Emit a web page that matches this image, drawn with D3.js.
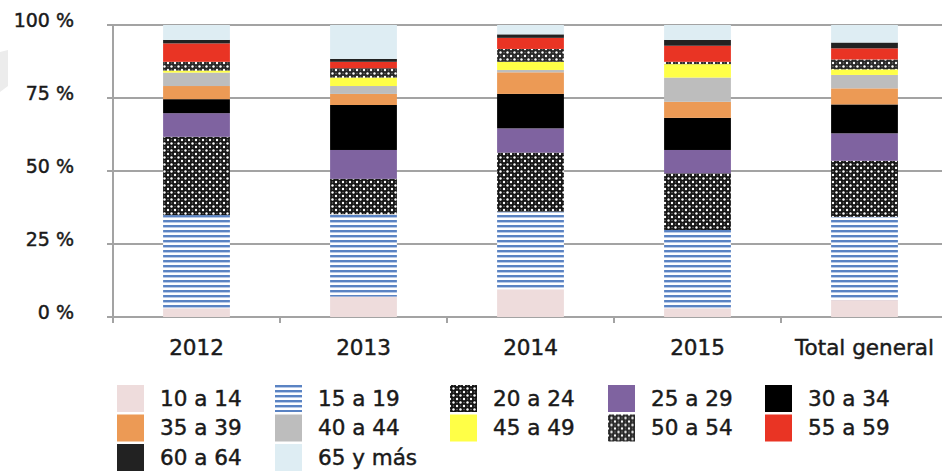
<!DOCTYPE html>
<html>
<head>
<meta charset="utf-8">
<script src="https://cdn.jsdelivr.net/npm/d3@7"></script>
<style>
  body { margin: 0; background: #fff; }
  text { font-family: "DejaVu Sans", Verdana, sans-serif; fill: #1a1a1a; stroke: #1a1a1a; stroke-width: 0.45px; }
</style>
</head>
<body>
<script>
// categories and age groups
categories = ["2012", "2013", "2014", "2015", "Total general"]
groups = ["10 a 14", "15 a 19", "20 a 24", "25 a 29", "30 a 34", "35 a 39",
          "40 a 44", "45 a 49", "50 a 54", "55 a 59", "60 a 64", "65 y más"]

// share (%) of each age group, one array per category, in group order
v2012  = [3.0, 31.9, 26.8, 8.1, 4.8, 4.5, 4.6, 0.7, 3.0, 6.3, 1.2, 5.1]
v2013  = [7.0, 28.2, 12.1, 9.9, 15.4, 3.8, 2.7, 2.9, 3.2, 2.2, 1.0, 11.6]
v2014  = [9.5, 26.6, 20.2, 8.3, 11.8, 7.4, 0.8, 2.8, 4.4, 3.8, 1.2, 3.2]
v2015  = [3.0, 26.8, 19.4, 8.0, 11.0, 5.5, 8.3, 4.6, 0.8, 5.5, 2.0, 5.1]
vTotal = [5.8, 28.5, 19.2, 9.4, 9.9, 5.5, 4.6, 1.9, 3.4, 3.8, 2.0, 6.0]
values = [v2012, v2013, v2014, v2015, vTotal]

yTicks = [0, 25, 50, 75, 100]

width = 942
height = 472
margin = {top: 25, right: -6, bottom: 155, left: 113}

fills = ["#eedcdc", "url(#stripes)", "url(#dots)", "#7f63a0", "#000000", "#ec9a55",
         "#bdbdbd", "#ffff47", "url(#dots2)", "#e93424", "#222222", "#deedf3"]

// table for the stack
table = categories.map((c, i) => {
  var row = {cat: c}
  groups.forEach((g, j) => row[g] = values[i][j])
  return row
})
series = d3.stack().keys(groups)(table)

x = d3.scaleBand()
  .domain(categories)
  .range([margin.left, width - margin.right])
  .padding(0)

y = d3.scaleLinear()
  .domain([0, 100])
  .range([height - margin.bottom, margin.top])

var svg = d3.select("body").append("svg")
  .attr("width", width)
  .attr("height", height)

// patterns
var defs = svg.append("defs")
var st = defs.append("pattern").attr("id", "stripes")
  .attr("patternUnits", "userSpaceOnUse").attr("width", 8).attr("height", 5)
st.append("rect").attr("width", 8).attr("height", 5).attr("fill", "#ffffff")
st.append("rect").attr("y", 0).attr("width", 8).attr("height", 2).attr("fill", "#5a83c3")
st.append("rect").attr("y", 2).attr("width", 8).attr("height", 1).attr("fill", "#b9cbe8")

function dotPattern(id, bg) {
  var p = defs.append("pattern").attr("id", id)
    .attr("patternUnits", "userSpaceOnUse").attr("width", 7).attr("height", 7)
  p.append("rect").attr("width", 7).attr("height", 7).attr("fill", bg)
  ;[[0, 0], [7, 0], [0, 7], [7, 7], [3.5, 3.5]].forEach(d => {
    p.append("circle").attr("cx", d[0]).attr("cy", d[1]).attr("r", 1.2).attr("fill", "#ffffff")
  })
  ;[[3.5, 0], [0, 3.5], [7, 3.5], [3.5, 7]].forEach(d => {
    p.append("circle").attr("cx", d[0]).attr("cy", d[1]).attr("r", 0.8).attr("fill", "#6e6e6e")
  })
}
dotPattern("dots", "#141414")
dotPattern("dots2", "#262626")

// faint shape on the left edge
svg.append("path")
  .attr("d", "M0,52 L8,50 L8,86 L0,92 Z")
  .attr("fill", "#ececec")

// gridlines
svg.append("g")
  .selectAll("line")
  .data(yTicks)
  .join("line")
  .attr("x1", margin.left - 6)
  .attr("x2", width)
  .attr("y1", d => y(d))
  .attr("y2", d => y(d))
  .attr("stroke", "#a3a3a3")
  .attr("stroke-width", 2)

// y axis line
svg.append("line")
  .attr("x1", margin.left).attr("x2", margin.left)
  .attr("y1", y(100)).attr("y2", y(0) + 6)
  .attr("stroke", "#a3a3a3").attr("stroke-width", 2)

// x ticks
svg.append("g")
  .selectAll("line")
  .data(categories)
  .join("line")
  .attr("x1", d => x(d)).attr("x2", d => x(d))
  .attr("y1", y(0)).attr("y2", y(0) + 6)
  .attr("stroke", "#a3a3a3").attr("stroke-width", 2)

// y labels
svg.append("g")
  .selectAll("text")
  .data(yTicks)
  .join("text")
  .attr("x", 74)
  .attr("y", d => y(d))
  .attr("dy", "0.1em")
  .attr("text-anchor", "end")
  .style("font-size", "19px")
  .text(d => d + " %")

// x labels
svg.append("g")
  .selectAll("text")
  .data(categories)
  .join("text")
  .attr("x", d => x(d) + x.bandwidth() / 2)
  .attr("y", 355)
  .attr("text-anchor", "middle")
  .style("font-size", "21.5px")
  .text(d => d)

// bars
var barW = x.bandwidth() * 0.4
svg.append("g")
  .selectAll("g")
  .data(series)
  .join("g")
  .attr("fill", (d, i) => fills[i])
  .selectAll("rect")
  .data(d => d)
  .join("rect")
  .attr("x", d => x(d.data.cat) + (x.bandwidth() - barW) / 2)
  .attr("y", d => y(d[1]))
  .attr("height", d => y(d[0]) - y(d[1]))
  .attr("width", barW)

// legend
var legCols = [117, 275, 450, 608, 765]
var legend = svg.append("g")
  .selectAll("g")
  .data(groups)
  .join("g")
  .attr("transform", (d, i) => "translate(" + legCols[i % 5] + "," + (385 + Math.floor(i / 5) * 29.5) + ")")

legend.append("rect")
  .attr("width", 27)
  .attr("height", 27)
  .attr("fill", (d, i) => fills[i])

legend.append("text")
  .attr("x", 43)
  .attr("y", 13)
  .attr("dy", "0.35em")
  .style("font-size", "21.5px")
  .text(d => d)
</script>
</body>
</html>
